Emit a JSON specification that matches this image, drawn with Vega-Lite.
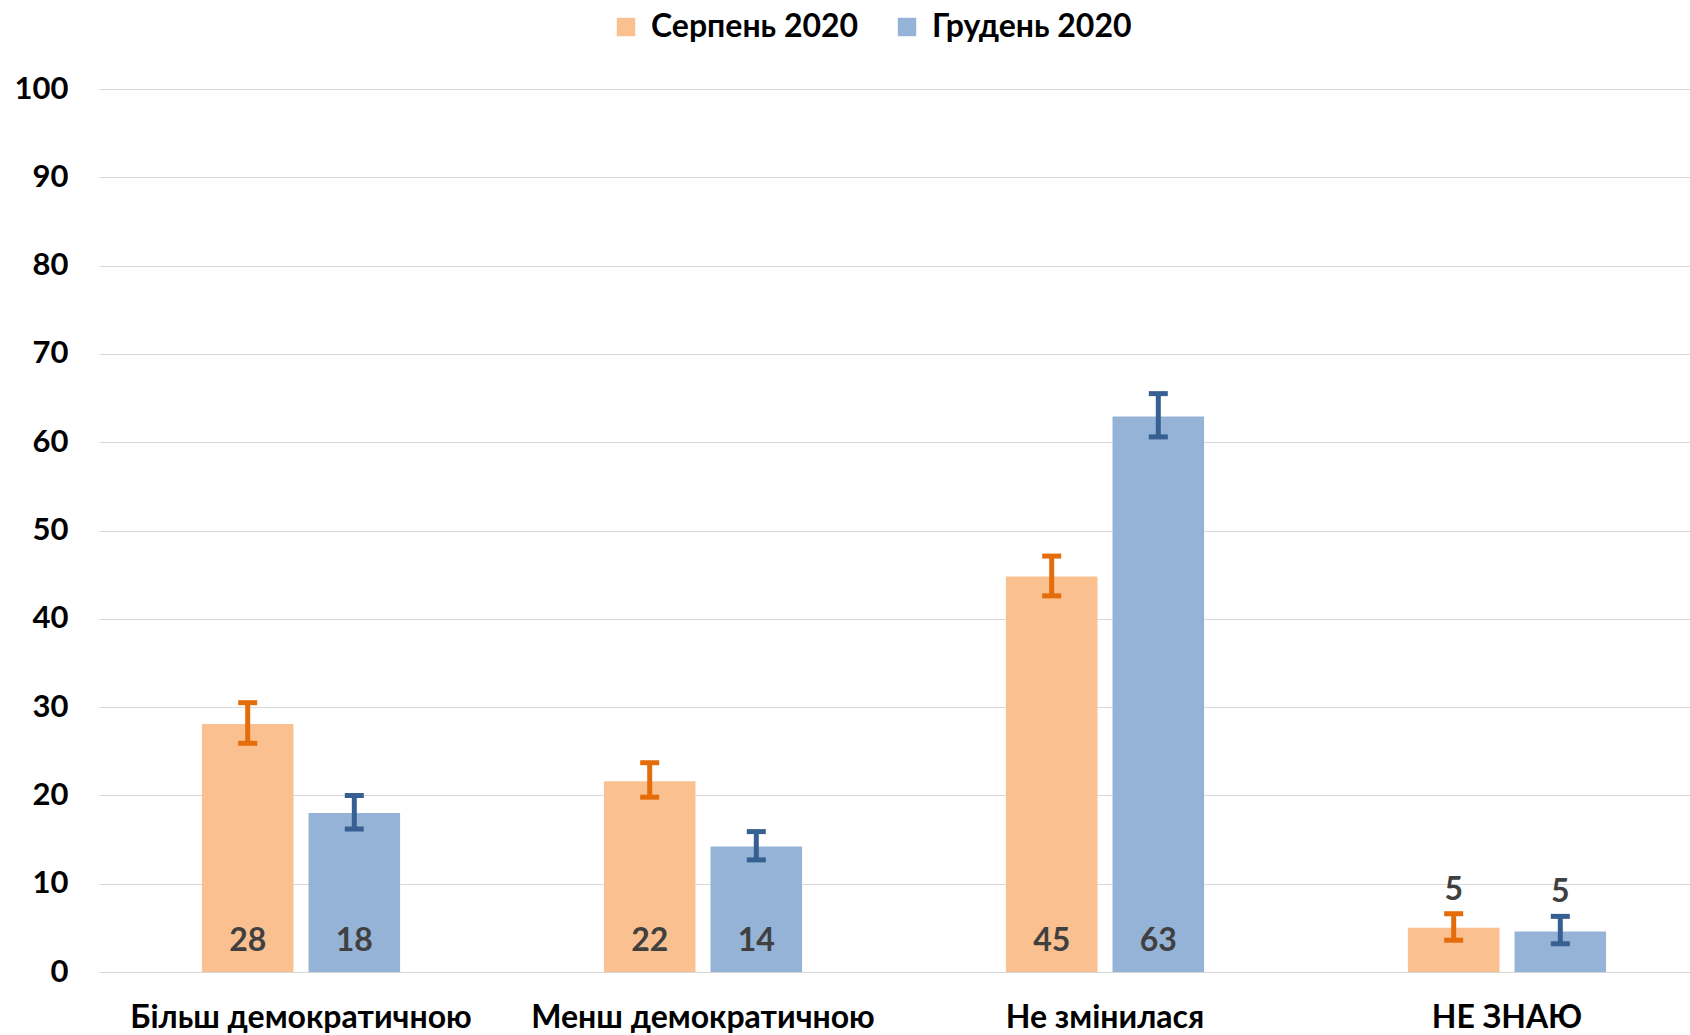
{
  "$schema": "https://vega.github.io/schema/vega-lite/v6.json",
  "autosize": {"type": "none"},
  "padding": {"left": 99, "top": 89, "right": 0, "bottom": 63},
  "width": 1591,
  "height": 883,
  "background": "white",
  "config": {"font": "Lato", "view": {"stroke": null}},
  "data": {
    "values": [
      {"category": "Більш демократичною", "series": "Серпень 2020", "value": 28.1, "lo": 25.9, "hi": 30.5, "label": "28"},
      {"category": "Більш демократичною", "series": "Грудень 2020", "value": 18.0, "lo": 16.2, "hi": 20.0, "label": "18"},
      {"category": "Менш демократичною", "series": "Серпень 2020", "value": 21.6, "lo": 19.8, "hi": 23.7, "label": "22"},
      {"category": "Менш демократичною", "series": "Грудень 2020", "value": 14.2, "lo": 12.7, "hi": 15.9, "label": "14"},
      {"category": "Не змінилася", "series": "Серпень 2020", "value": 44.8, "lo": 42.6, "hi": 47.1, "label": "45"},
      {"category": "Не змінилася", "series": "Грудень 2020", "value": 62.9, "lo": 60.6, "hi": 65.5, "label": "63"},
      {"category": "НЕ ЗНАЮ", "series": "Серпень 2020", "value": 5.0, "lo": 3.6, "hi": 6.6, "label": "5"},
      {"category": "НЕ ЗНАЮ", "series": "Грудень 2020", "value": 4.6, "lo": 3.2, "hi": 6.3, "label": "5"}
    ]
  },
  "encoding": {
    "x": {
      "field": "category",
      "type": "nominal",
      "sort": ["Більш демократичною", "Менш демократичною", "Не змінилася", "НЕ ЗНАЮ"],
      "scale": {"range": [0, 1610], "paddingInner": 0.507, "paddingOuter": 0.256},
      "axis": {
        "title": null,
        "labelAngle": 0,
        "labelFontSize": 32,
        "labelFontWeight": "bold",
        "labelColor": "#000000",
        "labelPadding": 30,
        "labelLimit": 500,
        "domain": false,
        "ticks": false
      }
    },
    "xOffset": {
      "field": "series",
      "type": "nominal",
      "sort": ["Серпень 2020", "Грудень 2020"],
      "scale": {"paddingInner": 0.141}
    }
  },
  "layer": [
    {
      "mark": {"type": "bar"},
      "encoding": {
        "y": {
          "field": "value",
          "type": "quantitative",
          "scale": {"domain": [0, 100], "nice": false},
          "axis": {
            "title": null,
            "values": [0, 10, 20, 30, 40, 50, 60, 70, 80, 90, 100],
            "labelFontSize": 31,
            "labelFontWeight": "bold",
            "labelColor": "#000000",
            "labelPadding": 31,
            "domain": false,
            "ticks": false,
            "gridColor": "#D9D9D9",
            "gridWidth": 1
          }
        },
        "fill": {
          "field": "series",
          "type": "nominal",
          "scale": {"domain": ["Серпень 2020", "Грудень 2020"], "range": ["#FAC090", "#95B3D7"]},
          "legend": {
            "title": null,
            "orient": "none",
            "legendX": 511,
            "legendY": -78,
            "direction": "horizontal",
            "symbolType": "square",
            "symbolSize": 340,
            "symbolStrokeWidth": 0,
            "labelFontSize": 32,
            "labelFontWeight": "bold",
            "labelColor": "#000000",
            "labelOffset": 9,
            "labelLimit": 500,
            "columnPadding": 32
          }
        }
      }
    },
    {
      "mark": {"type": "rule", "strokeWidth": 5},
      "encoding": {
        "y": {"field": "lo", "type": "quantitative"},
        "y2": {"field": "hi"},
        "color": {
          "field": "series",
          "type": "nominal",
          "scale": {"domain": ["Серпень 2020", "Грудень 2020"], "range": ["#E46C0A", "#376092"]},
          "legend": null
        }
      }
    },
    {
      "mark": {"type": "tick", "orient": "horizontal", "size": 19, "thickness": 5, "opacity": 1},
      "encoding": {
        "y": {"field": "lo", "type": "quantitative"},
        "color": {"field": "series", "type": "nominal", "legend": null}
      }
    },
    {
      "mark": {"type": "tick", "orient": "horizontal", "size": 19, "thickness": 5, "opacity": 1},
      "encoding": {
        "y": {"field": "hi", "type": "quantitative"},
        "color": {"field": "series", "type": "nominal", "legend": null}
      }
    },
    {
      "transform": [{"filter": "datum.value >= 10"}],
      "mark": {"type": "text", "fontSize": 32, "fontWeight": "bold", "color": "#404040", "baseline": "middle"},
      "encoding": {
        "y": {"datum": 3.5},
        "text": {"field": "label"}
      }
    },
    {
      "transform": [{"filter": "datum.value < 10"}],
      "mark": {"type": "text", "fontSize": 32, "fontWeight": "bold", "color": "#404040", "baseline": "middle", "dy": -24},
      "encoding": {
        "y": {"field": "hi", "type": "quantitative"},
        "text": {"field": "label"}
      }
    }
  ]
}
